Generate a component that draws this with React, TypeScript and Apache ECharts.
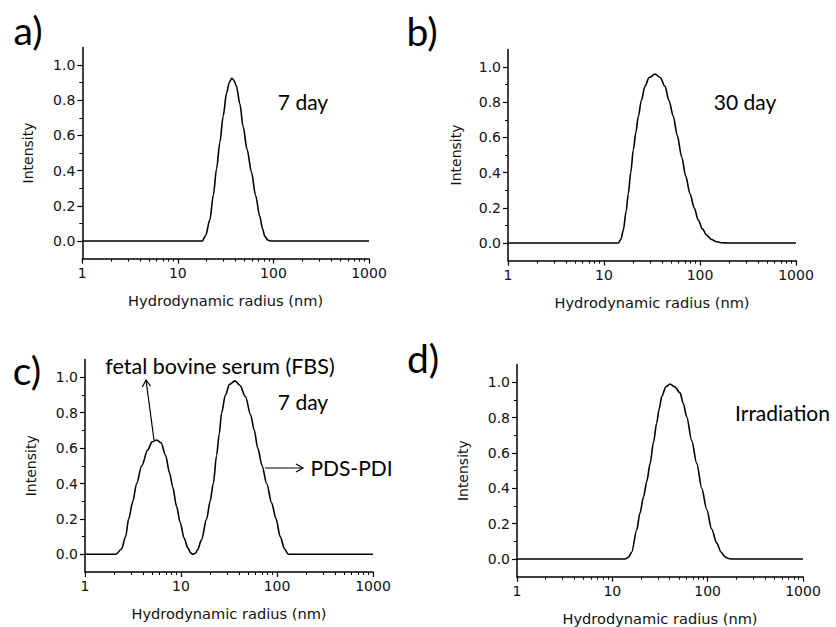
import React, { useEffect, useRef } from 'react';
import * as echarts from 'echarts';

// Panel a) 7 day
const radiusA = [1, 18, 19.5, 21.6, 23.5, 25.4, 27.5, 29.8, 32.3, 34.5, 36.5, 38.5, 41, 44.5, 48.2, 53, 59, 65, 72, 77, 81, 88, 95, 1000];
const intensityA = [0, 0, 0.03, 0.12, 0.26, 0.41, 0.56, 0.71, 0.84, 0.9, 0.924, 0.915, 0.88, 0.78, 0.65, 0.52, 0.39, 0.26, 0.14, 0.07, 0.027, 0.004, 0, 0];

// Panel b) 30 day
const radiusB = [1, 14.1, 15, 15.9, 17, 17.9, 19, 20.2, 21.5, 22.8, 24.5, 26.7, 29.5, 34, 38.5, 43.2, 47.5, 52.7, 58, 64.4, 71, 78.7, 87, 96, 106, 117, 132, 149, 170, 190, 1000];
const intensityB = [0, 0, 0.02, 0.074, 0.18, 0.28, 0.4, 0.53, 0.63, 0.72, 0.81, 0.89, 0.94, 0.96, 0.94, 0.89, 0.81, 0.72, 0.61, 0.49, 0.38, 0.28, 0.2, 0.13, 0.08, 0.045, 0.02, 0.007, 0.001, 0, 0];

// Panel c) 7 day in FBS
const radiusC = [1, 2.1, 2.4, 2.65, 2.85, 3.15, 3.45, 3.9, 4.5, 5.0, 5.6, 6.2, 6.9, 7.6, 8.2, 9.0, 9.8, 10.8, 11.8, 12.6, 13.3, 14.1, 14.9, 16.3, 18.5, 20.1, 21.7, 23.5, 25, 26.5, 29, 32, 36.5, 41, 47, 53, 58, 63, 70, 78, 88, 97.7, 108, 120, 131, 1000];
const intensityC = [0, 0, 0.03, 0.1, 0.2, 0.3, 0.4, 0.5, 0.59, 0.635, 0.646, 0.63, 0.56, 0.46, 0.38, 0.27, 0.18, 0.09, 0.035, 0.008, 0, 0.006, 0.025, 0.08, 0.2, 0.3, 0.4, 0.56, 0.68, 0.8, 0.9, 0.96, 0.98, 0.955, 0.89, 0.79, 0.7, 0.6, 0.5, 0.4, 0.29, 0.2, 0.1, 0.03, 0, 0];

// Panel d) Irradiation
const radiusD = [1, 13.6, 14.8, 16, 18, 19.5, 21.2, 23, 24.9, 27, 29.2, 31, 33, 36.5, 40.3, 45, 51.3, 55.5, 60.3, 68, 76.9, 86.7, 97.8, 110, 124.5, 138, 152, 165, 179, 1000];
const intensityD = [0, 0, 0.01, 0.04, 0.164, 0.26, 0.35, 0.44, 0.54, 0.66, 0.77, 0.85, 0.92, 0.975, 0.99, 0.975, 0.94, 0.88, 0.805, 0.67, 0.54, 0.4, 0.28, 0.17, 0.09, 0.04, 0.013, 0.003, 0, 0];

const xMinorTicks = [2, 3, 4, 5, 6, 7, 8, 9, 20, 30, 40, 50, 60, 70, 80, 90, 200, 300, 400, 500, 600, 700, 800, 900];
const yMajorTicks = [0, 0.2, 0.4, 0.6, 0.8, 1.0];
const yMinorTicks = [0.1, 0.3, 0.5, 0.7, 0.9];

const panelLabels = ['a)', 'b)', 'c)', 'd)'];
const xTitle = 'Hydrodynamic radius (nm)';
const yTitle = 'Intensity';

const panels = [
  { r: radiusA, v: intensityA, grid: { left: 82.3, top: 47.4, width: 286.7, height: 211.2 }, yGap: 47 },
  { r: radiusB, v: intensityB, grid: { left: 508, top: 49.4, width: 288, height: 211.2 }, yGap: 45 },
  { r: radiusC, v: intensityC, grid: { left: 85, top: 359.6, width: 288, height: 212.4 }, yGap: 47 },
  { r: radiusD, v: intensityD, grid: { left: 517, top: 364.6, width: 286, height: 212.1 }, yGap: 47 },
];

const TXT = '#111';
const AX = '#000';

export default function App() {
  const ref = useRef<HTMLDivElement>(null);
  useEffect(() => {
    if (!ref.current) return;
    const chart = echarts.init(ref.current, undefined, { renderer: 'svg' });

    const grid: any[] = [];
    const xAxis: any[] = [];
    const yAxis: any[] = [];
    const series: any[] = [];

    panels.forEach((p, i) => {
      grid.push({ ...p.grid, containLabel: false });
      xAxis.push({
        type: 'log', logBase: 10, gridIndex: i, min: 1, max: 1000, position: 'bottom',
        axisLine: { show: true, onZero: false, lineStyle: { color: AX, width: 1.5 } },
        axisTick: { show: true, length: 5, lineStyle: { color: AX, width: 1.2 } },
        axisLabel: { margin: 7, fontSize: 14, fontFamily: 'DejaVu Sans', color: TXT, formatter: (v: number) => String(Math.round(v)) },
        splitLine: { show: false },
        minorTick: { show: false },
        name: xTitle, nameLocation: 'middle', nameGap: 34,
        nameTextStyle: { fontSize: 14.6, fontFamily: 'DejaVu Sans', color: TXT },
      });
      xAxis.push({
        type: 'log', logBase: 10, gridIndex: i, min: 1, max: 1000, position: 'bottom',
        axisLine: { show: false, onZero: false },
        axisTick: { show: true, length: 3, customValues: xMinorTicks, lineStyle: { color: AX, width: 1 } },
        axisLabel: { show: false },
        splitLine: { show: false },
      });
      yAxis.push({
        type: 'value', gridIndex: i, min: -0.1, max: 1.1, position: 'left',
        axisLine: { show: true, onZero: false, lineStyle: { color: AX, width: 1.5 } },
        axisTick: { show: true, length: 5, customValues: yMajorTicks, lineStyle: { color: AX, width: 1.2 } },
        axisLabel: { customValues: yMajorTicks, margin: 7, fontSize: 14, fontFamily: 'DejaVu Sans', color: TXT, formatter: (v: number) => v.toFixed(1) },
        splitLine: { show: false },
        name: yTitle, nameLocation: 'middle', nameGap: p.yGap, nameRotate: 90,
        nameTextStyle: { fontSize: 14, fontFamily: 'DejaVu Sans', color: TXT },
      });
      yAxis.push({
        type: 'value', gridIndex: i, min: -0.1, max: 1.1, position: 'left',
        axisLine: { show: false, onZero: false },
        axisTick: { show: true, length: 3, customValues: yMinorTicks, lineStyle: { color: AX, width: 1 } },
        axisLabel: { show: false },
        splitLine: { show: false },
      });
      series.push({
        type: 'line', xAxisIndex: i * 2, yAxisIndex: i * 2,
        data: p.r.map((r, k) => [r, p.v[k]]),
        showSymbol: false, smooth: 0.3, smoothMonotone: 'x',
        lineStyle: { color: '#000', width: 1.6 },
        itemStyle: { color: '#000' },
      });
    });

    const labelFont = 'Lato';
    const mkText = (text: string, x: number, y: number, size: number) => ({
      type: 'text', x, y,
      style: { text, fill: '#000', font: `${size}px ${labelFont}`, align: 'center', verticalAlign: 'middle' },
    });

    const graphic: any[] = [
      mkText(panelLabels[0], 28, 30, 39),
      mkText(panelLabels[1], 422, 31, 39),
      mkText(panelLabels[2], 27, 370, 39),
      mkText(panelLabels[3], 423, 358, 39),
      mkText('7 day', 303, 101, 21),
      mkText('30 day', 745, 101, 21),
      mkText('7 day', 303, 401, 21),
      mkText('fetal bovine serum (FBS)', 220, 366, 21.5),
      mkText('PDS-PDI', 351.5, 467, 21),
      mkText('Irradiation', 782.5, 412, 21),
      { type: 'line', shape: { x1: 154, y1: 440, x2: 146, y2: 380 }, style: { stroke: '#000', lineWidth: 1.2 } },
      { type: 'polyline', shape: { points: [[142.3, 387], [146, 380], [150.6, 386.2]] }, style: { stroke: '#000', lineWidth: 1.2, fill: null } },
      { type: 'line', shape: { x1: 265, y1: 468, x2: 303, y2: 468 }, style: { stroke: '#000', lineWidth: 1.2 } },
      { type: 'polyline', shape: { points: [[296, 464], [303, 468], [296, 472]] }, style: { stroke: '#000', lineWidth: 1.2, fill: null } },
    ];

    chart.setOption({
      animation: false,
      backgroundColor: '#fff',
      textStyle: { fontFamily: 'DejaVu Sans' },
      grid, xAxis, yAxis, series, graphic,
    });
    return () => chart.dispose();
  }, []);

  return <div ref={ref} style={{ position: 'fixed', left: 0, top: 0, width: 836, height: 627, background: '#fff' }} />;
}
